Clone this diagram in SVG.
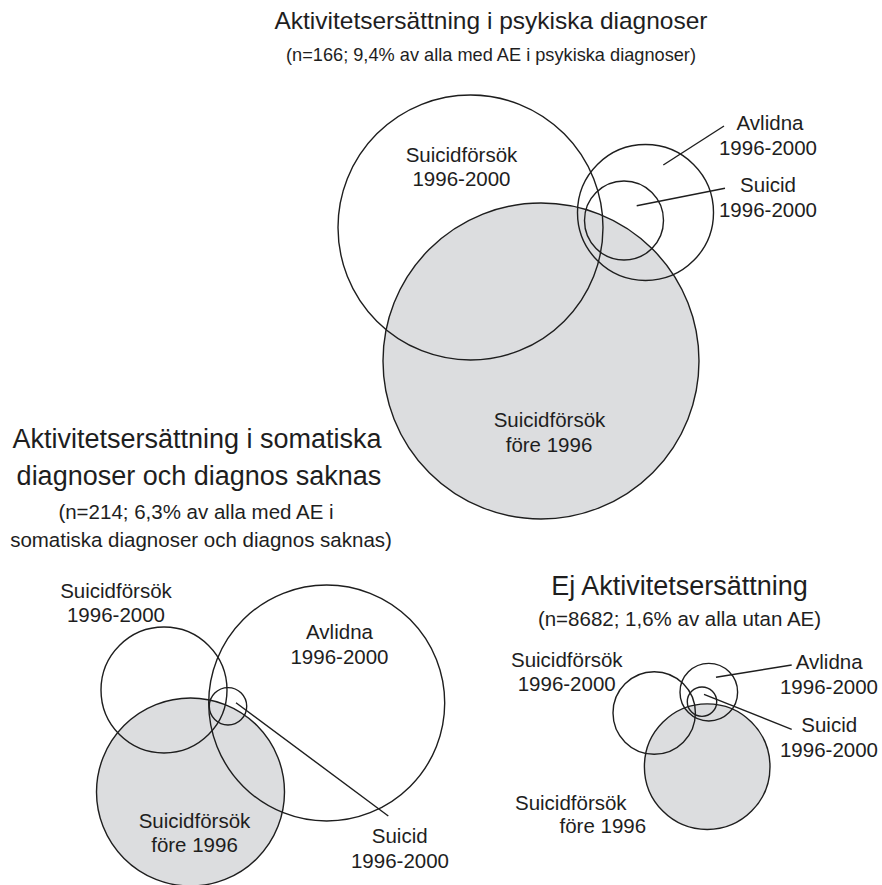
<svg xmlns="http://www.w3.org/2000/svg" width="882" height="885" viewBox="0 0 882 885">
<style>
text{font-family:"Liberation Sans",Arial,sans-serif;fill:#1e1e1e;text-anchor:middle}
.t{font-size:24.5px}
.t2{font-size:27px}
.s{font-size:18.2px}
.s2{font-size:20.5px}
.l{font-size:20.5px}
.c{fill:none;stroke:#1e1e1e;stroke-width:1.4}
.g{fill:#dcdddf;stroke:#1e1e1e;stroke-width:1.4}
.ln{stroke:#1e1e1e;stroke-width:1.4;fill:none}
</style>
<rect width="882" height="885" fill="#ffffff"/>

<g id="panel-psykiska">
<text class="t" x="491" y="29">Aktivitetsersättning i psykiska diagnoser</text>
<text class="s" x="491" y="61">(n=166; 9,4% av alla med AE i psykiska diagnoser)</text>
<g id="p1-fore1996"><circle class="g" cx="541" cy="361" r="158"/>
<text class="l" x="549.5" y="426.5">Suicidförsök</text><text class="l" x="549" y="451.5">före 1996</text></g>
<g id="p1-forsok"><circle class="c" cx="470.5" cy="227.5" r="132.5"/>
<text class="l" x="461.5" y="161.5">Suicidförsök</text><text class="l" x="461.5" y="186">1996-2000</text></g>
<g id="p1-avlidna"><circle class="c" cx="645.5" cy="212.5" r="68"/>
<text class="l" x="770" y="129.5">Avlidna</text><text class="l" x="768" y="154.5">1996-2000</text></g>
<g id="p1-suicid"><circle class="c" cx="624" cy="220.5" r="39.5"/>
<text class="l" x="768" y="191.5">Suicid</text><text class="l" x="768" y="216.5">1996-2000</text></g>
</g>

<g id="panel-somatiska">
<text class="t2" x="197" y="448">Aktivitetsersättning i somatiska</text>
<text class="t2" x="199" y="485">diagnoser och diagnos saknas</text>
<text class="s2" x="196" y="518.5">(n=214; 6,3% av alla med AE i</text>
<text class="s2" x="201" y="546.5">somatiska diagnoser och diagnos saknas)</text>
<g id="p2-fore1996"><circle class="g" cx="190.5" cy="792" r="94"/>
<text class="l" x="194.5" y="827.5">Suicidförsök</text><text class="l" x="194.5" y="851.5">före 1996</text></g>
<g id="p2-forsok"><circle class="c" cx="164" cy="690" r="63"/>
<text class="l" x="116" y="597.5">Suicidförsök</text><text class="l" x="116" y="621.5">1996-2000</text></g>
<g id="p2-avlidna"><circle class="c" cx="326.7" cy="703" r="118"/>
<text class="l" x="339.5" y="639">Avlidna</text><text class="l" x="339.5" y="663.5">1996-2000</text></g>
<g id="p2-suicid"><circle class="c" cx="228" cy="706.3" r="18.7"/>
<text class="l" x="399.7" y="843.3">Suicid</text><text class="l" x="400" y="867.5">1996-2000</text></g>
</g>

<g id="panel-ej">
<text class="t2" x="679.5" y="595">Ej Aktivitetsersättning</text>
<text class="s2" x="679.5" y="626">(n=8682; 1,6% av alla utan AE)</text>
<g id="p3-fore1996"><circle class="g" cx="707.2" cy="766.7" r="62.8"/>
<text class="l" x="570.8" y="810">Suicidförsök</text><text class="l" x="602.8" y="832.7">före 1996</text></g>
<g id="p3-forsok"><circle class="c" cx="654.2" cy="713" r="41.2"/>
<text class="l" x="566.8" y="666.7">Suicidförsök</text><text class="l" x="566.7" y="690.7">1996-2000</text></g>
<g id="p3-avlidna"><circle class="c" cx="708.8" cy="692.2" r="28.8"/>
<text class="l" x="829.2" y="669.3">Avlidna</text><text class="l" x="829" y="694">1996-2000</text></g>
<g id="p3-suicid"><circle class="c" cx="702" cy="701.7" r="14.7"/>
<text class="l" x="829.2" y="731.7">Suicid</text><text class="l" x="829" y="756.7">1996-2000</text></g>
</g>

<g id="connectors">
<line class="ln" x1="663.3" y1="165" x2="724" y2="126"/>
<line class="ln" x1="636.7" y1="205.7" x2="725" y2="188.3"/>
<line class="ln" x1="236" y1="702.7" x2="388.3" y2="816"/>
<line class="ln" x1="716" y1="677.3" x2="791.7" y2="665"/>
<line class="ln" x1="704" y1="694.3" x2="791.7" y2="729.3"/>
</g>
</svg>
